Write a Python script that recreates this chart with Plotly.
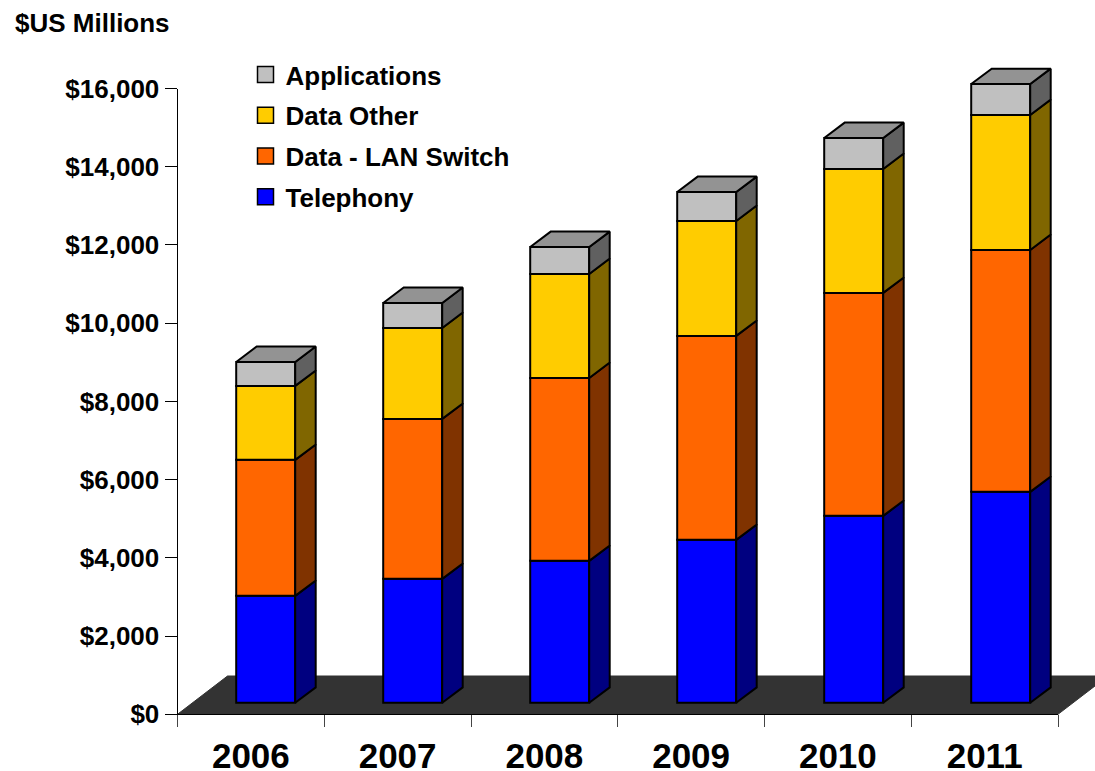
import plotly.graph_objects as go

W, H = 1095, 771
years = ["2006", "2007", "2008", "2009", "2010", "2011"]
telephony = [2735, 3169, 3629, 4166, 4780, 5393]
lan_switch = [3476, 4089, 4677, 5214, 5700, 6185]
data_other = [1891, 2326, 2658, 2939, 3169, 3450]
applications = [613, 639, 690, 741, 792, 792]
y_ticks = [0, 2000, 4000, 6000, 8000, 10000, 12000, 14000, 16000]

series = [
    ("Telephony", telephony, "#0000FF", "#000080"),
    ("Data - LAN Switch", lan_switch, "#FF6600", "#803300"),
    ("Data Other", data_other, "#FFCC00", "#806600"),
    ("Applications", applications, "#C0C0C0", "#606060"),
]
TOP_COLOR = "#939393"

# pixel layout of the axes and of the 3-D projection
AX_L, AX_R, AX_B, AX_T = 177.5, 1058.0, 714.3, 88.5
BAR_PITCH = 147.0
PX_PER_VAL = (AX_B - AX_T) / 16000
BAR_CX, BAR_BASE = 265.7, 702.8          # front face of first bar
BAR_W = 59 / BAR_PITCH
DX, DY = 20.5 / BAR_PITCH, 15.4 / PX_PER_VAL
FLOOR_DX, FLOOR_BACK = 50, 676

xr2 = [(0 - BAR_CX) / BAR_PITCH, (W - BAR_CX) / BAR_PITCH]
yr2 = [(BAR_BASE - H) / PX_PER_VAL, BAR_BASE / PX_PER_VAL]

fig = go.Figure()

# legend entries (main axes, no data of their own)
for name, _, col, _ in reversed(series):
    fig.add_trace(go.Scatter(
        x=[None], y=[None], mode="markers", name=name, legendgroup=name,
        marker=dict(symbol="square", size=16, color=col, line=dict(color="black", width=1.5)),
        xaxis="x", yaxis="y", hoverinfo="skip"))

# stacked faces on the second axes, which share the value scale
base = [0] * len(years)
idx = list(range(len(years)))
for name, vals, col, dark in series:
    fig.add_trace(go.Bar(
        x=idx, y=vals, base=base, width=BAR_W, name=name, showlegend=False,
        marker=dict(color=col, line=dict(color="black", width=2)),
        xaxis="x2", yaxis="y2", cliponaxis=False))
    sx, sy = [], []
    for i in idx:
        r = i + BAR_W / 2
        lo, hi = base[i], base[i] + vals[i]
        sx += [r, r + DX, r + DX, r, r, None]
        sy += [lo, lo + DY, hi + DY, hi, lo, None]
    fig.add_trace(go.Scatter(
        x=sx, y=sy, mode="lines", fill="toself", fillcolor=dark, showlegend=False,
        line=dict(color="black", width=2), xaxis="x2", yaxis="y2", hoverinfo="skip"))
    base = [b + v for b, v in zip(base, vals)]

tx, ty = [], []
for i in idx:
    l, r = i - BAR_W / 2, i + BAR_W / 2
    t = base[i]
    tx += [l, l + DX, r + DX, r, l, None]
    ty += [t, t + DY, t + DY, t, t, None]
fig.add_trace(go.Scatter(
    x=tx, y=ty, mode="lines", fill="toself", fillcolor=TOP_COLOR, showlegend=False,
    line=dict(color="black", width=2), xaxis="x2", yaxis="y2", hoverinfo="skip"))

FONT = "Liberation Sans, Arial, sans-serif"
px = lambda v: v / W
py = lambda v: 1 - v / H

floor = (f"M{px(AX_L)},{py(AX_B)} L{px(AX_L + FLOOR_DX)},{py(FLOOR_BACK)} "
         f"L{px(AX_R + FLOOR_DX)},{py(FLOOR_BACK)} L{px(AX_R)},{py(AX_B)} Z")

fig.update_layout(
    width=W, height=H, autosize=False,
    margin=dict(l=0, r=0, t=0, b=0, pad=0, autoexpand=False),
    paper_bgcolor="white", plot_bgcolor="rgba(0,0,0,0)",
    barmode="overlay", hovermode=False,
    font=dict(family=FONT, color="black", size=26, weight=700),
    shapes=[dict(type="path", path=floor, xref="paper", yref="paper",
                 fillcolor="#333333", line=dict(color="#333333", width=1), layer="below")],
    annotations=[dict(text="$US Millions", xref="paper", yref="paper", x=px(13), y=py(23),
                      xanchor="left", yanchor="middle", showarrow=False,
                      font=dict(family=FONT, size=26, weight=700))],
    legend=dict(x=px(245.5), y=py(51), xanchor="left", yanchor="top",
                bgcolor="rgba(0,0,0,0)", tracegroupgap=4,
                font=dict(family=FONT, size=26, weight=700)),
    xaxis=dict(type="category", categoryorder="array", categoryarray=years,
               tickmode="array", tickvals=years, ticktext=years,
               range=[-0.5, 5.5], domain=[px(AX_L), px(AX_R)], anchor="y",
               tickson="boundaries", ticks="outside", ticklen=12, tickwidth=1, tickcolor="#444",
               ticklabelstandoff=11,
               showline=True, linecolor="black", linewidth=1, showgrid=False, zeroline=False,
               tickfont=dict(family=FONT, size=35, weight=700), fixedrange=True),
    yaxis=dict(range=[0, 16000], domain=[py(AX_B), py(AX_T)], anchor="x",
               tickmode="array", tickvals=y_ticks, ticktext=[f"${v:,}" for v in y_ticks],
               ticks="outside", ticklen=12, tickwidth=1, tickcolor="black",
               showline=True, linecolor="black", linewidth=1, showgrid=False, zeroline=False,
               tickfont=dict(family=FONT, size=26, weight=700), fixedrange=True),
    xaxis2=dict(type="linear", range=xr2, domain=[0, 1], anchor="y2", visible=False, fixedrange=True),
    yaxis2=dict(type="linear", range=yr2, domain=[0, 1], anchor="x2", visible=False, fixedrange=True),
)

fig.write_html("out.html", config=dict(displayModeBar=False),
               post_script="document.body.style.margin='0';")
